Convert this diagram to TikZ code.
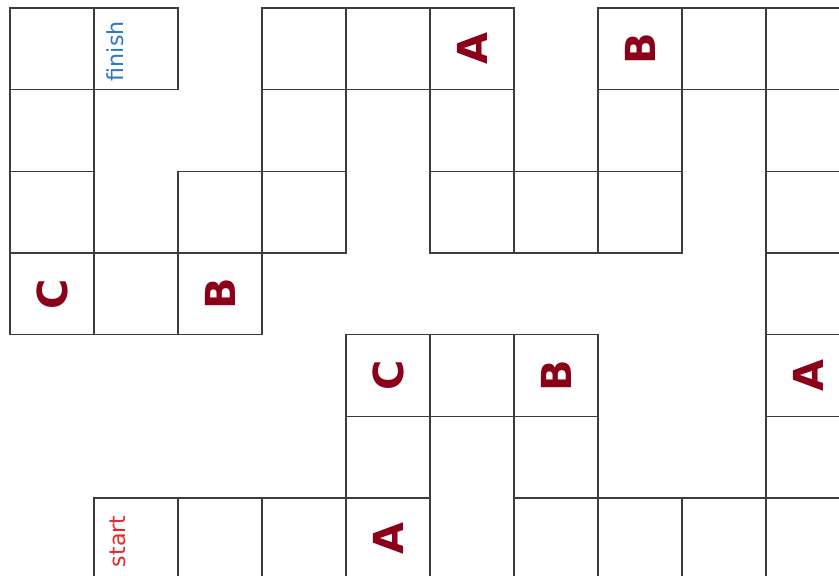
\documentclass[tikz,border=0pt]{standalone}
\usepackage{fontspec}
\setmainfont{DejaVu Sans}
\usepackage{xcolor}
\definecolor{letra}{RGB}{139,0,24}
\definecolor{fim}{RGB}{40,122,200}
\definecolor{inicio}{RGB}{232,40,40}
\definecolor{borda}{RGB}{60,60,60}
\tikzset{
  casa/.style={draw=borda, line width=0.9pt},
  letrabox/.style={text=letra, rotate=90, font=\bfseries\fontsize{28}{28}\selectfont},
  marca/.style={rotate=90, font=\fontsize{15}{15}\selectfont}
}

\begin{document}
\begin{tikzpicture}[x=2cm, y=-1.9444cm]
        % Margens da figura
        \useasboundingbox (-0.119,-0.098) rectangle (9.869,6.955);
        \fill[white] (-0.119,-0.098) rectangle (9.869,6.955);
        \clip (-0.119,-0.098) rectangle (9.869,6.955);
        % Casas do labirinto (coluna/linha)
        \foreach \c/\r in {0/0,1/0,3/0,4/0,5/0,7/0,8/0,9/0,
                           0/1,3/1,5/1,7/1,9/1,
                           0/2,2/2,3/2,5/2,6/2,7/2,9/2,
                           0/3,1/3,2/3,9/3,
                           4/4,5/4,6/4,9/4,
                           4/5,6/5,9/5,
                           1/6,2/6,3/6,4/6,6/6,7/6,8/6,9/6}
            \draw[casa] (\c,\r) rectangle ++(1,1);
        % Inicio e fim
        \node[marca, text=fim] (fim) at (1.25,0.53) {finish};
        \node[marca, text=inicio] (inicio) at (1.28,6.53) {start};
        % Letras
        \node[letrabox] (a1) at (5.5,0.5) {A};
        \node[letrabox] (b1) at (7.5,0.5) {B};
        \node[letrabox] (c1) at (0.5,3.5) {C};
        \node[letrabox] (b2) at (2.5,3.5) {B};
        \node[letrabox] (c2) at (4.5,4.5) {C};
        \node[letrabox] (b3) at (6.5,4.5) {B};
        \node[letrabox] (a2) at (9.5,4.5) {A};
        \node[letrabox] (a3) at (4.5,6.5) {A};
    \end{tikzpicture}
\end{document}
